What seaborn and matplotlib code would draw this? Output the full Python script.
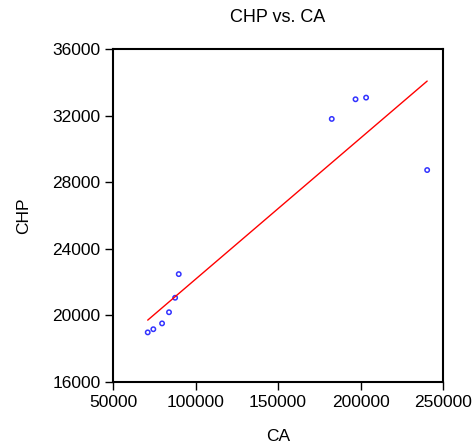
import matplotlib
matplotlib.use("Agg")
import matplotlib.pyplot as plt
import seaborn as sns
import pandas as pd

ca = [71000, 74400, 79700, 83900, 87600, 89800, 182500, 196900, 203300, 240300]
chp = [18980, 19170, 19520, 20190, 21060, 22480, 31800, 32980, 33080, 28730]
x_ticks = [50000, 100000, 150000, 200000, 250000]
y_ticks = [16000, 20000, 24000, 28000, 32000, 36000]

df = pd.DataFrame({"CA": ca, "CHP": chp})

sns.set_style("ticks")
plt.rcParams["font.family"] = ["Liberation Sans", "DejaVu Sans"]
plt.rcParams["text.color"] = "black"
plt.rcParams["axes.labelcolor"] = "black"
plt.rcParams["xtick.color"] = "black"
plt.rcParams["ytick.color"] = "black"

fig = plt.figure(figsize=(4.75, 4.47), dpi=100)
ax = fig.add_axes([0.238, 0.1454, 0.695, 0.745])

sns.regplot(data=df, x="CA", y="CHP", ax=ax, ci=None, truncate=True,
            scatter_kws=dict(marker="o", s=10, facecolors="none",
                             edgecolors="blue", linewidths=1.1),
            line_kws=dict(color="red", lw=1.0))

ax.set_xlim(50000, 250000)
ax.set_ylim(16000, 36000)
ax.set_xticks(x_ticks)
ax.set_yticks(y_ticks)
ax.set_xticklabels([str(v) for v in x_ticks])
ax.set_yticklabels([str(v) for v in y_ticks])
ax.tick_params(direction="out", length=6, width=1, labelsize=12.5,
               color="black", labelcolor="black", pad=3)
for s in ax.spines.values():
    s.set_visible(True)
    s.set_color("black")
    s.set_linewidth(1.5)
ax.set_xlabel("CA", fontsize=12.5, labelpad=14, color="black")
ax.set_ylabel("CHP", fontsize=12.5, labelpad=15, color="black")
fig.text(0.585, 0.96, "CHP vs. CA", ha="center", va="center", fontsize=13,
         color="black")

fig.savefig("out.png", dpi=100, facecolor="white")
